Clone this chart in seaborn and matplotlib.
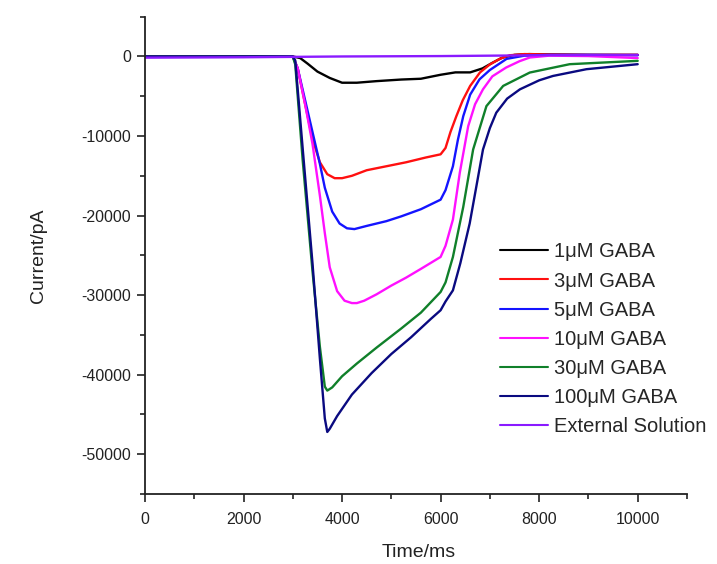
import numpy as np
import pandas as pd
import matplotlib
matplotlib.use("Agg")
import matplotlib.pyplot as plt
from matplotlib.ticker import MultipleLocator
import seaborn as sns

# Whole-cell currents evoked by GABA at several concentrations (time in ms, current in pA)
labels = ["1μM GABA", "3μM GABA", "5μM GABA", "10μM GABA",
          "30μM GABA", "100μM GABA", "External Solution"]
colors = ["#000000", "#ff1010", "#1414ff", "#ff10ff", "#10802a", "#0a0a80", "#8a1aff"]

t_1uM = [0, 3000, 3150, 3300, 3500, 3750, 4000, 4300, 4700, 5200, 5600, 6000,
         6300, 6600, 6850, 7050, 7250, 7500, 7800, 8200, 9000, 10000]
i_1uM = [0, 0, -200, -900, -1900, -2700, -3300, -3300, -3100, -2900, -2800, -2300,
         -2000, -2000, -1500, -800, -150, 200, 300, 250, 200, 200]

t_3uM = [0, 3000, 3100, 3250, 3400, 3550, 3700, 3850, 4000, 4200, 4500, 4900, 5300,
         5700, 6000, 6100, 6200, 6320, 6450, 6600, 6800, 7000, 7200, 7400, 7700, 8200,
         9000, 10000]
i_3uM = [0, 0, -1500, -6000, -10400, -13300, -14800, -15300, -15300, -15000, -14300,
         -13800, -13300, -12700, -12300, -11500, -9500, -7500, -5500, -3700, -2000,
         -1000, -300, 150, 300, 250, 200, 200]

t_5uM = [0, 3000, 3100, 3250, 3400, 3550, 3650, 3800, 3950, 4100, 4250, 4500, 4900,
         5200, 5600, 6000, 6100, 6250, 6350, 6460, 6600, 6790, 7000, 7340, 7700, 8200,
         9000, 10000]
i_5uM = [0, 0, -1500, -5500, -9500, -13500, -16500, -19500, -21000, -21600, -21700,
         -21300, -20700, -20100, -19200, -18000, -16800, -13800, -10500, -7500, -4800,
         -2870, -1700, -300, 100, 200, 200, 150]

t_10uM = [0, 3000, 3100, 3250, 3400, 3550, 3650, 3750, 3900, 4050, 4200, 4300, 4450,
          4700, 5000, 5300, 5600, 6000, 6100, 6250, 6390, 6560, 6700, 6860, 7050, 7330,
          7600, 7810, 8200, 9000, 10000]
i_10uM = [0, 0, -1500, -6000, -11000, -17500, -22200, -26500, -29500, -30700, -31000,
          -31000, -30700, -29900, -28800, -27800, -26700, -25200, -23800, -20500, -14600,
          -8760, -6000, -4130, -2500, -1390, -600, -130, 100, 50, -200]

t_30uM = [0, 3000, 3050, 3200, 3400, 3550, 3650, 3700, 3800, 4000, 4300, 4700, 5200,
          5600, 6000, 6100, 6250, 6460, 6660, 6930, 7270, 7810, 8620, 10000]
i_30uM = [0, 0, -1000, -13000, -27000, -36500, -41500, -42000, -41600, -40200, -38600,
          -36600, -34200, -32200, -29600, -28400, -25200, -18900, -11700, -6240, -3700,
          -2020, -970, -550]

t_100uM = [0, 3000, 3050, 3200, 3400, 3550, 3650, 3700, 3750, 3900, 4200, 4600, 5000,
           5400, 5800, 6000, 6100, 6250, 6400, 6590, 6750, 6860, 7000, 7130, 7350, 7610,
           8000, 8280, 8960, 10000]
i_100uM = [0, 0, -500, -11500, -26000, -38000, -45500, -47200, -46800, -45200, -42500,
           -39800, -37400, -35300, -33000, -31900, -30800, -29400, -26000, -21000, -15500,
           -11700, -9000, -7070, -5300, -4130, -3000, -2450, -1600, -970]

t_ext = [0, 2000, 4000, 6000, 8000, 10000]
i_ext = [-150, -100, 0, 50, 150, 200]

series_t = [t_1uM, t_3uM, t_5uM, t_10uM, t_30uM, t_100uM, t_ext]
series_i = [i_1uM, i_3uM, i_5uM, i_10uM, i_30uM, i_100uM, i_ext]

df = pd.concat(
    [pd.DataFrame({"Time": t, "Current": i, "Solution": lab})
     for t, i, lab in zip(series_t, series_i, labels)],
    ignore_index=True,
)

sns.set_style("ticks")
plt.rcParams["font.family"] = ["Liberation Sans", "DejaVu Sans"]
plt.rcParams["axes.unicode_minus"] = False

fig = plt.figure(figsize=(7.17, 5.64), dpi=100)
ax = fig.add_axes([0.2022, 0.1241, 0.7559, 0.8463])

sns.lineplot(data=df, x="Time", y="Current", hue="Solution", hue_order=labels,
             palette=dict(zip(labels, colors)), estimator=None, linewidth=1.7,
             ax=ax, legend=True)

ax.set_xlim(0, 11000)
ax.set_ylim(-55000, 5000)
ax.xaxis.set_major_locator(MultipleLocator(2000))
ax.xaxis.set_minor_locator(MultipleLocator(1000))
ax.yaxis.set_major_locator(MultipleLocator(10000))
ax.yaxis.set_minor_locator(MultipleLocator(5000))
ax.set_yticks([0, -10000, -20000, -30000, -40000, -50000])

for side in ("top", "right"):
    ax.spines[side].set_visible(False)
for side in ("left", "bottom"):
    ax.spines[side].set_linewidth(1.3)
    ax.spines[side].set_color("#222222")

ax.tick_params(which="major", direction="out", length=6, width=1.2,
               labelsize=11.5, pad=4, colors="#222222")
ax.tick_params(which="minor", direction="out", length=3.5, width=1.2, colors="#222222")
ax.tick_params(axis="x", which="major", pad=7)

ax.set_xlabel("Time/ms", fontsize=14, color="#222222")
ax.set_ylabel("Current/pA", fontsize=14, color="#222222")
ax.xaxis.set_label_coords(0.505, -0.104)
ax.yaxis.set_label_coords(-0.18, 0.5)

handles, labs = ax.get_legend_handles_labels()
for h in handles:
    h.set_linewidth(1.5)
ax.legend(handles, labs, loc="upper left", bbox_to_anchor=(0.655, 0.527),
          frameon=False, fontsize=14.5, handlelength=2.4, handletextpad=0.3,
          labelspacing=0.50, borderpad=0, borderaxespad=0)

fig.savefig("out.png", dpi=100, facecolor="white")
